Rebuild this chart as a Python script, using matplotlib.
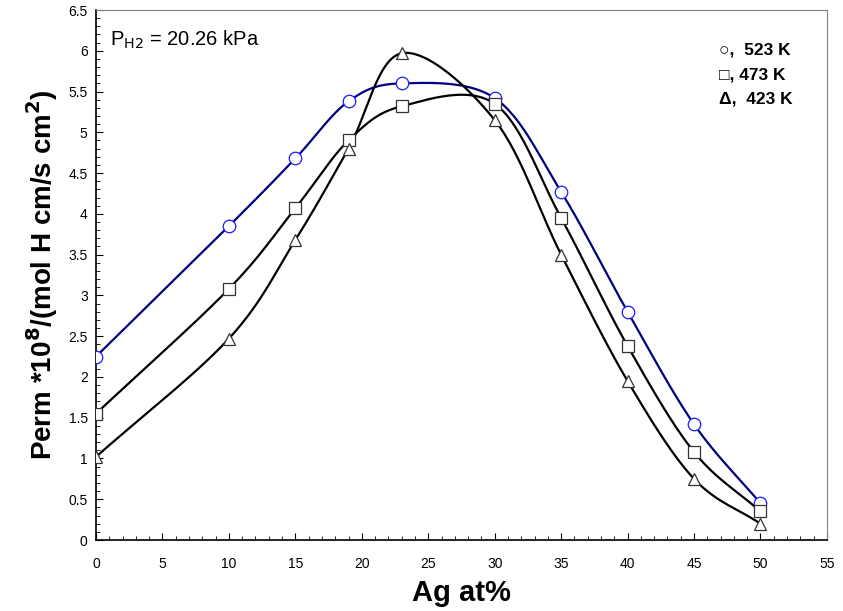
import numpy as np
import matplotlib
matplotlib.use('Agg')
import matplotlib.pyplot as plt
from matplotlib.ticker import MultipleLocator, FormatStrFormatter

plt.rcParams['font.family'] = ['Liberation Sans', 'DejaVu Sans']

ag = [0, 10, 15, 19, 23, 30, 35, 40, 45, 50]
perm_523 = [2.25, 3.85, 4.68, 5.38, 5.60, 5.42, 4.27, 2.80, 1.42, 0.45]
perm_473 = [1.55, 3.08, 4.07, 4.90, 5.32, 5.35, 3.95, 2.38, 1.08, 0.35]
perm_423 = [1.02, 2.47, 3.68, 4.80, 5.97, 5.15, 3.50, 1.95, 0.75, 0.20]


def smooth(x, y, n=30):
    # catmull-rom style smoothing like excel's smoothed line
    x = np.asarray(x, float)
    y = np.asarray(y, float)
    px = np.concatenate([[2 * x[0] - x[1]], x, [2 * x[-1] - x[-2]]])
    py = np.concatenate([[2 * y[0] - y[1]], y, [2 * y[-1] - y[-2]]])
    xs, ys = [], []
    t = np.linspace(0, 1, n)
    for i in range(1, len(px) - 2):
        for p, out in ((px, xs), (py, ys)):
            p0, p1, p2, p3 = p[i - 1], p[i], p[i + 1], p[i + 2]
            m1 = (p2 - p0) / 6
            m2 = (p3 - p1) / 6
            c1 = p1 + m1
            c2 = p2 - m2
            out.extend((1 - t) ** 3 * p1 + 3 * (1 - t) ** 2 * t * c1 + 3 * (1 - t) * t ** 2 * c2 + t ** 3 * p2)
    return np.array(xs), np.array(ys)


fig = plt.figure(figsize=(8.43, 6.11), dpi=100)
ax = fig.add_axes([0.1139, 0.1162, 0.867, 0.8674])

series = [
    (perm_523, 'o', '#000080', '#1a1aff'),
    (perm_473, 's', 'black', '#333333'),
    (perm_423, '^', 'black', '#333333'),
]
for vals, mk, lc, mc in series:
    sx, sy = smooth(ag, vals)
    ax.plot(sx, sy, color=lc, lw=1.6, zorder=2)
    ax.plot(ag, vals, mk, ms=9, mfc='white', mec=mc, mew=0.9, ls='none', zorder=3)

ax.set_xlim(0, 55)
ax.set_ylim(0, 6.5)
ax.xaxis.set_major_locator(MultipleLocator(5))
ax.xaxis.set_minor_locator(MultipleLocator(1))
ax.yaxis.set_major_locator(MultipleLocator(0.5))
ax.yaxis.set_minor_locator(MultipleLocator(0.1))
ax.yaxis.set_major_formatter(FormatStrFormatter('%g'))
ax.tick_params(which='both', direction='in', labelsize=10, top=False, right=False)
ax.tick_params(which='major', length=5, pad=12)
ax.tick_params(axis='y', which='major', pad=6)
ax.tick_params(which='minor', length=3)
for s in ['top', 'right']:
    ax.spines[s].set_color('#808080')
ax.spines['left'].set_linewidth(1.2)
ax.spines['bottom'].set_linewidth(1.2)

ax.set_xlabel('Ag at%', fontsize=21, fontweight='bold', labelpad=6)
ax.set_ylabel('Perm *10$^\\mathbf{8}$/(mol H cm/s cm$^\\mathbf{2}$)', fontsize=20,
              fontweight='bold', labelpad=6)

ax.text(1.05, 6.06, 'P$_{\\mathrm{H2}}$ = 20.26 kPa', fontsize=14.5)

legend_rows = [('\u25cb,  523 K', 6.01), ('\u25a1, 473 K', 5.70), ('\u0394,  423 K', 5.41)]
for txt, yy in legend_rows:
    ax.text(46.9, yy, txt, fontsize=12.5, fontweight='bold', va='center')

plt.savefig('out.png', dpi=100)
